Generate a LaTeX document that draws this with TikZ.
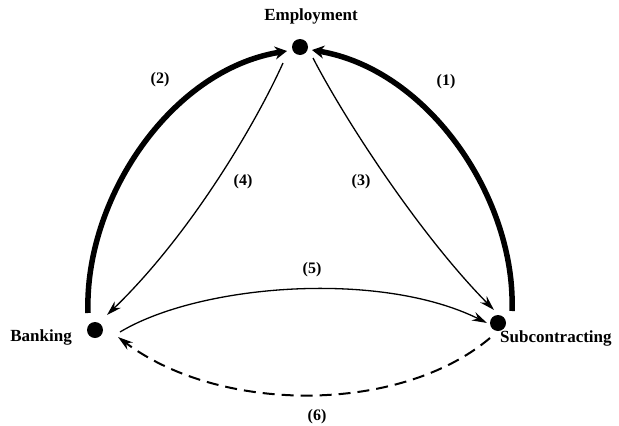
\documentclass[tikz,border=0pt]{standalone}
\usepackage{fontspec}
\setmainfont{Liberation Serif}
\usetikzlibrary{arrows.meta}

\begin{document}
\begin{tikzpicture}[x=1pt,y=-1pt,
    dot/.style={circle, fill=black, inner sep=0pt, minimum size=16pt},
    place/.style={inner sep=0pt, font=\fontsize{17}{20}\selectfont\bfseries},
    num/.style={inner sep=0pt, font=\fontsize{16}{19}\selectfont\bfseries},
    heavy/.style={line width=5.5pt, -{Stealth[length=12pt,width=13pt]}},
    light/.style={line width=1.3pt, -{Stealth[length=15pt,width=9pt]}}]
    \useasboundingbox (0,0) rectangle (619,426);

    \node[dot] (emp) at (300,47) {};
    \node[dot] (bank) at (95,330) {};
    \node[dot] (sub) at (498,323) {};

    \node[place] (emplabel) at (311,16) {Employment};
    \node[place, anchor=east] (banklabel) at (72,337) {Banking};
    \node[place, anchor=west] (sublabel) at (500,338) {Subcontracting};

    % heavy flows into employment
    \draw[heavy] ([shift={(14,-12)}]sub.center) .. controls (516,200) and (430,70) .. ([shift={(12,3)}]emp.center);
    \draw[heavy] ([shift={(-7,-17)}]bank.center) .. controls (84,200) and (170,70) .. ([shift={(-13,4)}]emp.center);

    % light flows
    \draw[light] ([shift={(13,11)}]emp.center) .. controls (345,120) and (420,235) .. ([shift={(-4,-13)}]sub.center);
    \draw[light] ([shift={(-17,16)}]emp.center) .. controls (255,125) and (190,235) .. ([shift={(12,-15)}]bank.center);
    \draw[light] ([shift={(25,2)}]bank.center) .. controls (200,284) and (380,270) .. ([shift={(-11,0)}]sub.center);
    \draw[light, line width=2pt, dash pattern=on 12pt off 7pt] ([shift={(-8,15)}]sub.center) .. controls (400,414) and (220,414) .. ([shift={(23,7)}]bank.center);

    \foreach \n/\px/\py in {1/446/82, 2/160/80, 3/361/182, 4/243/182, 5/312/270, 6/317/417}
    {
        \node[num] (n\n) at (\px,\py) {(\n)};
    }
\end{tikzpicture}
\end{document}
